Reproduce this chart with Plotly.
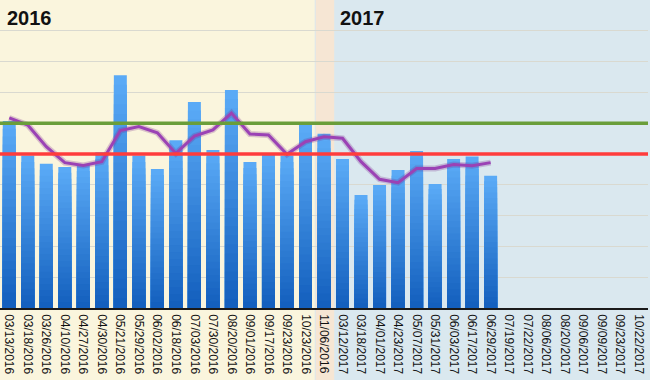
import plotly.graph_objects as go

# ---- data ----
dates = ["03/13/2016", "03/18/2016", "03/26/2016", "04/10/2016", "04/27/2016", "04/30/2016",
         "05/21/2016", "05/29/2016", "06/02/2016", "06/18/2016", "07/03/2016", "07/30/2016",
         "08/20/2016", "09/01/2016", "09/17/2016", "09/23/2016", "10/23/2016", "11/06/2016",
         "03/12/2017", "03/18/2017", "04/01/2017", "04/23/2017", "05/07/2017", "05/31/2017",
         "06/03/2017", "06/17/2017", "06/29/2017", "07/19/2017", "07/22/2017", "08/06/2017",
         "08/20/2017", "09/06/2017", "09/09/2017", "09/23/2017", "10/22/2017"]
values = [60.7, 49.5, 46.8, 45.8, 46.4, 50.6, 75.6, 49.5, 45.1, 54.5, 66.9, 51.3, 70.8, 47.4,
          50.3, 49.5, 59.4, 56.6, 48.4, 36.7, 39.9, 44.8, 51.0, 40.3, 48.4, 49.2, 42.9]
moving_avg = [61.7, 59.4, 52.4, 47.2, 46.3, 47.5, 57.6, 58.9, 56.9, 50.2, 55.8, 57.8, 63.3, 56.5,
              56.2, 49.9, 54.0, 55.6, 55.1, 47.5, 41.8, 40.7, 45.3, 45.3, 46.6, 46.2, 47.2]
upper_ref = 60
lower_ref = 50
year_labels = ["2016", "2017"]
year_start = ["03/13/2016", "03/12/2017"]
transition = "11/06/2016"

# ---- styles ----
YELLOW = "#FAF5DD"
PEACH = "#F6E6D4"
BLUE = "#DAE8EF"
top_rgb = (90, 170, 246)
bot_rgb = (20, 96, 190)
N_LAYERS = 24

bar_x = dates[:len(values)]
fig = go.Figure()

# gradient bars: overlaid layers, each a fraction of the bar height
for k in range(N_LAYERS):
    f = 1 - k / N_LAYERS
    t = k / (N_LAYERS - 1)
    c = tuple(round(top_rgb[i] + (bot_rgb[i] - top_rgb[i]) * t) for i in range(3))
    fig.add_trace(go.Bar(
        x=bar_x, y=[v * f for v in values], width=0.7,
        marker=dict(color="rgb(%d,%d,%d)" % c, line=dict(width=0)),
        showlegend=False, hoverinfo="skip" if k else None,
    ))

# moving average with soft shadow
ma_x = dates[:len(moving_avg)]
fig.add_trace(go.Scatter(x=ma_x, y=moving_avg, mode="lines",
                         line=dict(color="rgba(120,40,140,0.25)", width=6),
                         showlegend=False, hoverinfo="skip"))
fig.add_trace(go.Scatter(x=ma_x, y=moving_avg, mode="lines",
                         line=dict(color="#9B42B5", width=3), showlegend=False))

ti = dates.index(transition)
shapes = [
    dict(type="rect", xref="x", yref="paper", x0=-0.5, x1=ti - 0.5, y0=-0.3, y1=1,
         fillcolor=YELLOW, line=dict(width=0), layer="below"),
    dict(type="rect", xref="x", yref="paper", x0=ti - 0.45, x1=ti + 0.55, y0=-0.3, y1=1,
         fillcolor=PEACH, line=dict(width=0), layer="below"),
    dict(type="line", xref="paper", yref="y", x0=0, x1=1, y0=upper_ref, y1=upper_ref,
         line=dict(color="#6A9E3A", width=3.5), layer="above"),
    dict(type="line", xref="paper", yref="y", x0=0, x1=1, y0=lower_ref, y1=lower_ref,
         line=dict(color="#FF3C3C", width=3.5), layer="above"),
]

annotations = []
for lab, start in zip(year_labels, year_start):
    annotations.append(dict(text="<b>%s</b>" % lab, xref="x", yref="paper",
                            x=dates.index(start) - 0.5, y=1, xanchor="left", yanchor="top",
                            xshift=5, yshift=-5, showarrow=False,
                            font=dict(family="Liberation Sans, Arial", size=20, color="#111")))

fig.update_layout(
    width=650, height=380,
    margin=dict(l=0, r=2, t=0, b=72),
    paper_bgcolor=BLUE, plot_bgcolor="rgba(0,0,0,0)",
    barmode="overlay",
    shapes=shapes, annotations=annotations,
    font=dict(family="Liberation Sans, Arial", size=12, color="#111"),
    xaxis=dict(type="category", categoryorder="array", categoryarray=dates,
               range=[-0.5, len(dates) - 0.5], tickangle=90, showgrid=False,
               showline=True, linecolor="#1a1a1a", linewidth=1.5, ticks="outside",
               ticklen=2, tickcolor="rgba(0,0,0,0)",
               automargin=False, tickfont=dict(size=12, color="#111")),
    yaxis=dict(range=[0, 100], dtick=10, showticklabels=False, showgrid=True,
               gridcolor="#D9D9D0", gridwidth=1, zeroline=False, showline=False,
               automargin=False),
)

fig.write_html("out.html", config={"displayModeBar": False},
               post_script="document.body.style.margin='0';document.body.style.overflow='hidden';")
